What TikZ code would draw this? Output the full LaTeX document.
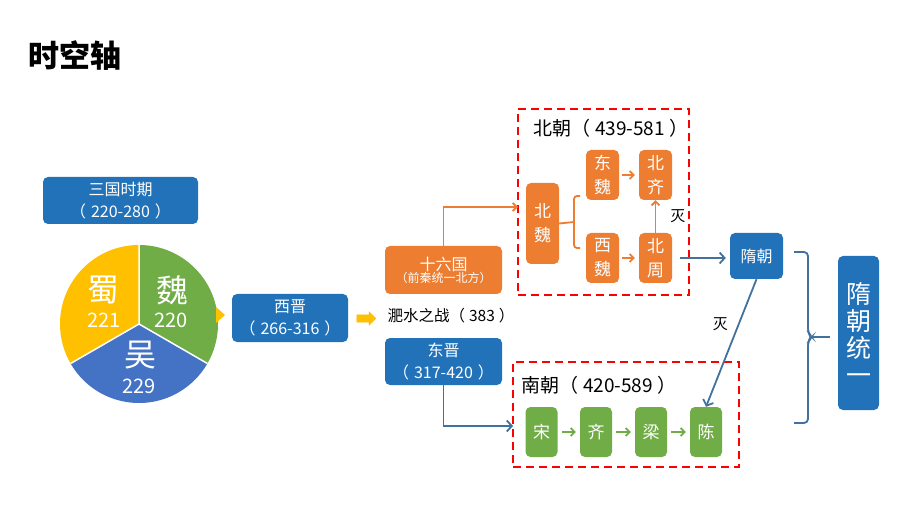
\documentclass[tikz,border=0pt]{standalone}
\usepackage{fontspec}
\setmainfont{Noto Sans CJK SC}
\usetikzlibrary{positioning,arrows.meta,shapes.arrows}
\definecolor{boxblue}{HTML}{2272B9}
\definecolor{qorange}{HTML}{ED7D31}
\definecolor{qgreen}{HTML}{70AD47}
\definecolor{qyellow}{HTML}{FFC000}
\definecolor{pieblue}{HTML}{4472C4}
\definecolor{darkline}{HTML}{41719C}
\newcommand\yrs[1]{（\hspace{5pt}#1\hspace{5pt}）}

\begin{document}
\begin{tikzpicture}[x=1pt,y=-1pt,
    box/.style={rounded corners=5pt,text=white,align=center,inner sep=0pt},
    bluebox/.style={box,fill=boxblue,font=\fontsize{16}{22}\selectfont},
    orangebox/.style={box,fill=qorange,font=\fontsize{17}{24}\selectfont,minimum width=33pt,minimum height=50pt},
    greenbox/.style={box,fill=qgreen,font=\fontsize{17}{20}\selectfont,minimum width=32pt,minimum height=50pt},
    chao/.style={draw=red,line width=2.2pt,dash pattern=on 8pt off 5pt,inner sep=0pt},
    chaotitle/.style={font=\fontsize{19}{22}\selectfont,inner sep=0pt},
    piebig/.style={text=white,inner sep=0pt,font=\fontsize{32}{34}\selectfont},
    pienum/.style={text=white,inner sep=0pt,font=\fontsize{20}{22}\selectfont},
    oarrow/.style={draw=qorange,line width=1.8pt,-{Straight Barb[length=4pt,width=8pt]}},
    garrow/.style={draw=qgreen,line width=1.8pt,-{Straight Barb[length=4pt,width=8pt]},shorten <=4pt,shorten >=4pt},
    barrow/.style={draw=darkline,line width=1.8pt,-{Straight Barb[length=5pt,width=11pt]}},
    mie/.style={font=\fontsize{15}{18}\selectfont,inner sep=2pt}
  ]
  \useasboundingbox (0,0) rectangle (920,518);

  \node[font=\fontsize{31}{34}\selectfont\bfseries,inner sep=0pt] (title) at (75,56) {时空轴};

  % three kingdoms
  \node[bluebox,minimum width=155pt,minimum height=47pt] (sanguo) at (120.5,200.5) {三国时期\\\yrs{220-280}};
  \coordinate (pie) at (139,324);
  \begin{scope}[shift={(pie)},x=1pt,y=1pt]
    \fill[qgreen] (0,0) -- (90:79) arc (90:-30:79) -- cycle;
    \fill[qyellow] (0,0) -- (90:79) arc (90:210:79) -- cycle;
    \fill[pieblue] (0,0) -- (210:79) arc (210:330:79) -- cycle;
    \draw[white,line width=1.5pt] (0,0) -- (90:79) (0,0) -- (210:79) (0,0) -- (330:79);
  \end{scope}
  \node[piebig] (shu) at (103,290) {蜀};
  \node[pienum] (shunum) at (104,320) {221};
  \node[piebig] (wei) at (172,290) {魏};
  \node[pienum] (weinum) at (171,320) {220};
  \node[piebig] (wu) at (140,355) {吴};
  \node[pienum] (wunum) at (139,386) {229};
  \fill[qyellow] (216,307) -- (225,315) -- (216,323) -- cycle;

  \node[bluebox,minimum width=116pt,minimum height=48pt] (xijin) at (290,318) {西晋\\\yrs{266-316}};
  \node[single arrow,fill=qyellow,draw=qyellow!85!orange,minimum height=19pt,inner sep=3.5pt,
    single arrow head extend=3pt] (jinarrow) at (364.5,318.5) {};
  \node[font=\fontsize{15.5}{18}\selectfont,inner sep=0pt] (feishui) at (451,316) {淝水之战（\hspace{4pt}383\hspace{4pt}）};

  \node[box,fill=qorange,minimum width=117pt,minimum height=48pt] (shiliu) at (443.5,270)
    {{\fontsize{16}{21}\selectfont 十六国}\\{\fontsize{12}{14}\selectfont （前秦统一北方）}};
  \node[bluebox,minimum width=117pt,minimum height=47pt] (dongjin) at (443.5,361.5) {东晋\\\yrs{317-420}};

  % northern dynasties
  \node[chao,minimum width=171pt,minimum height=186pt] (beichao) at (603.5,202) {};
  \node[chaotitle] (beititle) at (611,128) {北朝\yrs{439-581}};
  \node[orangebox,minimum height=81pt] (beiwei) at (542.5,223.5) {北\\魏};
  \node[orangebox] (dongwei) at (602.5,175) {东\\魏};
  \node[orangebox] (beiqi) at (655.5,175) {北\\齐};
  \node[orangebox] (xiwei) at (602.5,258) {西\\魏};
  \node[orangebox] (beizhou) at (655.5,258) {北\\周};
  \draw[qorange,line width=1.8pt] (beiwei.east) -- (574,222);
  \draw[qorange,line width=1.8pt,rounded corners=3pt] (580,196) -- (574,196) -- (574,248) -- (580,248);
  \draw[oarrow,shorten <=3pt,shorten >=4pt] (dongwei) -- (beiqi);
  \draw[oarrow,shorten <=3pt,shorten >=4pt] (xiwei) -- (beizhou);
  \draw[oarrow] (beizhou) -- (beiqi) node[mie,midway,right,xshift=12pt] {灭};
  \coordinate (beiin) at (518,207);
  \draw[oarrow] (shiliu.north) |- (beiin);

  % southern dynasties
  \node[chao,minimum width=226pt,minimum height=105pt] (nanchao) at (626,414.5) {};
  \node[chaotitle] (nantitle) at (599,385) {南朝\yrs{420-589}};
  \node[greenbox] (song) at (541.5,432) {宋};
  \node[greenbox] (qi) at (596,432) {齐};
  \node[greenbox] (liang) at (651,432) {梁};
  \node[greenbox] (chen) at (706,432) {陈};
  \draw[garrow] (song) -- (qi);
  \draw[garrow] (qi) -- (liang);
  \draw[garrow] (liang) -- (chen);
  \coordinate (nanin) at (513,426);
  \draw[barrow] (dongjin.south) |- (nanin);

  % sui
  \node[bluebox,minimum width=53pt,minimum height=46pt] (suichao) at (756.5,256) {隋朝};
  \draw[barrow,shorten <=8pt,shorten >=4pt] (beizhou.east) -- (beizhou.east -| suichao.west);
  \draw[barrow] (suichao.south) -- (chen.north) node[mie,pos=0.35,left,xshift=-8pt] {灭};
  \draw[darkline,line width=1.8pt,rounded corners=4pt] (794,252) -- (808,252) -- (808,333)
    -- (812,337) -- (808,341) -- (808,423) -- (794,423);
  \draw[darkline,line width=1.8pt] (811,337) -- (830,337);
  \node[box,fill=boxblue,minimum width=41pt,minimum height=154pt,font=\fontsize{25}{27}\selectfont] (tongyi) at (858.5,333) {隋\\朝\\统\\一};
\end{tikzpicture}
\end{document}
